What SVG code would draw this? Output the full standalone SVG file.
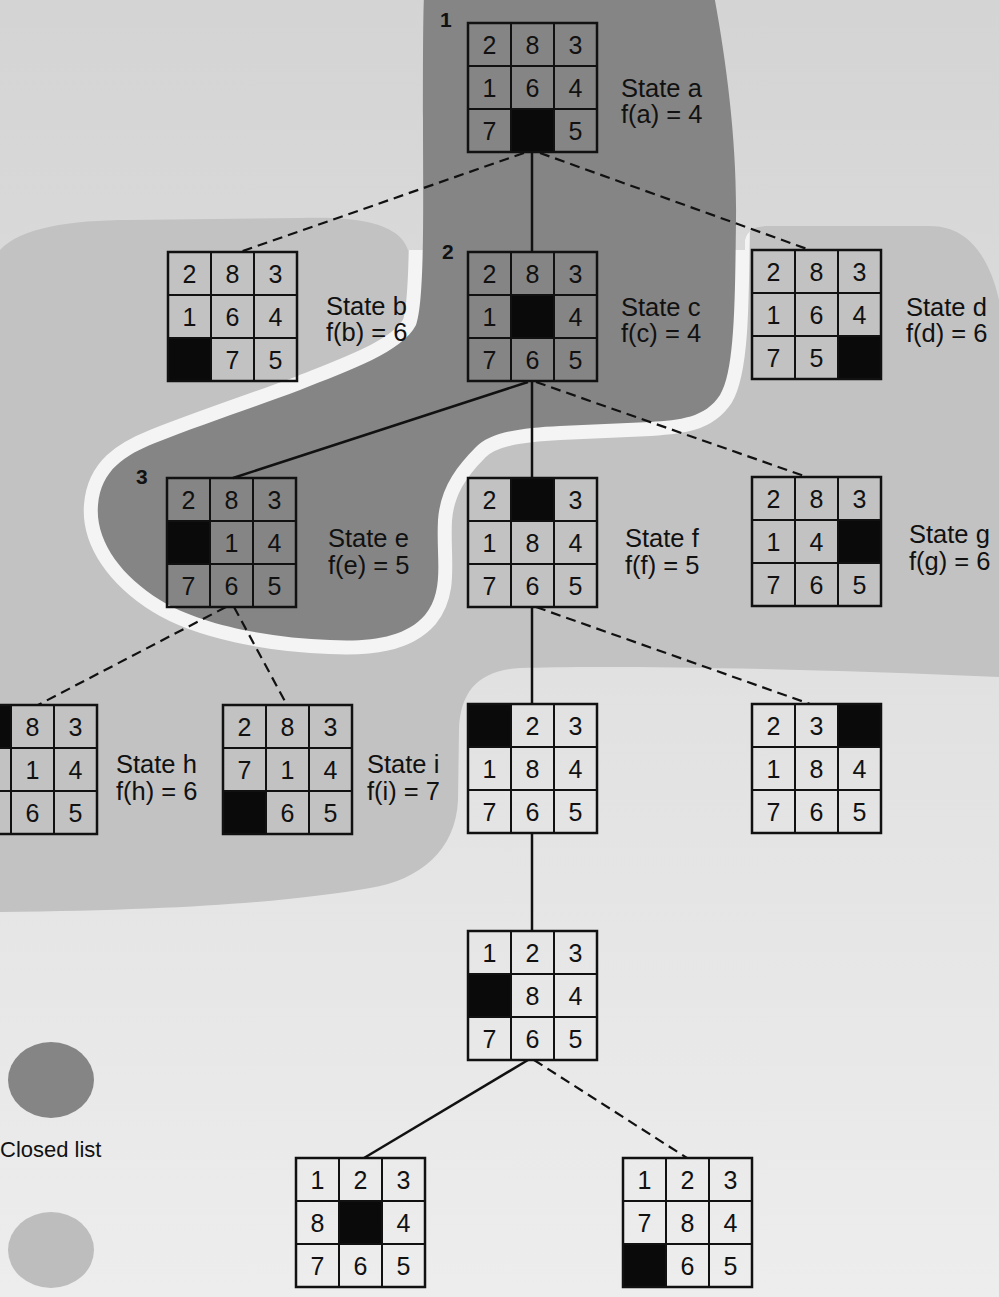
<svg xmlns="http://www.w3.org/2000/svg" xmlns:xlink="http://www.w3.org/1999/xlink" width="999" height="1297" viewBox="0 0 999 1297">
<style>
.num{font-family:"Liberation Sans",Arial,sans-serif;font-size:25px;text-anchor:middle;fill:#111}
.lbl{font-family:"Liberation Sans",Arial,sans-serif;font-size:25.5px;fill:#111}
.step{font-family:"Liberation Sans",Arial,sans-serif;font-size:21px;font-weight:bold;fill:#111}
.frame{fill:none;stroke:#111;stroke-width:2.5}
.inner{stroke:#111;stroke-width:2}
.blank{fill:#0a0a0a}
.solid{stroke:#111;stroke-width:2.5;fill:none}
.dash{stroke:#111;stroke-width:2.2;fill:none;stroke-dasharray:10 6}
</style>
<defs>
<linearGradient id="paper" x1="0" y1="0" x2="0" y2="1">
<stop offset="0" stop-color="#d4d4d4"/>
<stop offset="1" stop-color="#ededed"/>
</linearGradient>
<path id="lightShape" d="M0,250 C20,228 70,220 130,220 L300,218 C360,216 400,224 408,250 L745,250 L745,240 C748,228 758,226 770,226 L930,226 C970,226 990,260 999,300 L999,677 C800,668 600,665 520,668 C480,670 460,690 459,730 L458,800 C456,850 420,880 370,888 C300,900 200,910 0,912 Z"/>
<path id="darkShape" d="M424,-5 L714,-5 C726,60 737,140 736,220 C735,300 735,370 720,395 C705,418 680,420 650,422 L560,426 C520,428 490,432 475,448 C455,468 440,490 438,520 C436,560 445,590 425,615 C405,638 370,642 330,640 C270,638 200,625 160,600 C120,575 95,540 98,505 C101,470 125,455 155,443 C200,425 260,405 300,390 C350,370 402,352 416,325 C425,300 423,200 423,120 C423,60 423,20 424,-5 Z"/>
<clipPath id="lightClip"><use xlink:href="#lightShape"/></clipPath>
<g id="frame">
<rect class="frame" x="0" y="0" width="129" height="129"/>
<line class="inner" x1="43" y1="0" x2="43" y2="129"/>
<line class="inner" x1="86" y1="0" x2="86" y2="129"/>
<line class="inner" x1="0" y1="43" x2="129" y2="43"/>
<line class="inner" x1="0" y1="86" x2="129" y2="86"/>
</g>
</defs>

<g id="background">
<rect x="0" y="0" width="999" height="1297" fill="url(#paper)"/>
<use xlink:href="#lightShape" fill="#c2c2c2"/>
<use xlink:href="#darkShape" fill="none" stroke="#f4f4f4" stroke-width="28" clip-path="url(#lightClip)"/>
<use xlink:href="#darkShape" fill="#858585"/>
</g>

<g id="connectors">
<line class="dash" x1="524" y1="153" x2="240" y2="252"/>
<line class="solid" x1="532" y1="152" x2="532" y2="252"/>
<line class="dash" x1="540" y1="153" x2="810" y2="250"/>
<line class="solid" x1="528" y1="382" x2="233" y2="478"/>
<line class="solid" x1="532" y1="381" x2="532" y2="478"/>
<line class="dash" x1="536" y1="382" x2="807" y2="477"/>
<line class="dash" x1="226" y1="607" x2="38" y2="705"/>
<line class="dash" x1="234" y1="607" x2="287" y2="705"/>
<line class="solid" x1="532" y1="606" x2="532" y2="704"/>
<line class="dash" x1="536" y1="607" x2="810" y2="704"/>
<line class="solid" x1="532" y1="833" x2="532" y2="931"/>
<line class="solid" x1="528" y1="1060" x2="364" y2="1158"/>
<line class="dash" x1="534" y1="1060" x2="687" y2="1158"/>
</g>

<g id="state-a" transform="translate(468,23)">
<rect class="blank" x="43" y="86" width="43" height="43"/>
<use xlink:href="#frame"/>
<text class="num" x="21.5" y="30.5">2</text><text class="num" x="64.5" y="30.5">8</text><text class="num" x="107.5" y="30.5">3</text>
<text class="num" x="21.5" y="73.5">1</text><text class="num" x="64.5" y="73.5">6</text><text class="num" x="107.5" y="73.5">4</text>
<text class="num" x="21.5" y="116.5">7</text><text class="num" x="107.5" y="116.5">5</text>
</g>
<g id="label-a"><text class="step" x="440" y="27">1</text><text class="lbl" x="621" y="97">State a</text><text class="lbl" x="621" y="123">f(a) = 4</text></g>

<g id="state-b" transform="translate(168,252)">
<rect class="blank" x="0" y="86" width="43" height="43"/>
<use xlink:href="#frame"/>
<text class="num" x="21.5" y="30.5">2</text><text class="num" x="64.5" y="30.5">8</text><text class="num" x="107.5" y="30.5">3</text>
<text class="num" x="21.5" y="73.5">1</text><text class="num" x="64.5" y="73.5">6</text><text class="num" x="107.5" y="73.5">4</text>
<text class="num" x="64.5" y="116.5">7</text><text class="num" x="107.5" y="116.5">5</text>
</g>
<g id="label-b"><text class="lbl" x="326" y="315">State b</text><text class="lbl" x="326" y="341">f(b) = 6</text></g>

<g id="state-c" transform="translate(468,252)">
<rect class="blank" x="43" y="43" width="43" height="43"/>
<use xlink:href="#frame"/>
<text class="num" x="21.5" y="30.5">2</text><text class="num" x="64.5" y="30.5">8</text><text class="num" x="107.5" y="30.5">3</text>
<text class="num" x="21.5" y="73.5">1</text><text class="num" x="107.5" y="73.5">4</text>
<text class="num" x="21.5" y="116.5">7</text><text class="num" x="64.5" y="116.5">6</text><text class="num" x="107.5" y="116.5">5</text>
</g>
<g id="label-c"><text class="step" x="442" y="259">2</text><text class="lbl" x="621" y="316">State c</text><text class="lbl" x="621" y="342">f(c) = 4</text></g>

<g id="state-d" transform="translate(752,250)">
<rect class="blank" x="86" y="86" width="43" height="43"/>
<use xlink:href="#frame"/>
<text class="num" x="21.5" y="30.5">2</text><text class="num" x="64.5" y="30.5">8</text><text class="num" x="107.5" y="30.5">3</text>
<text class="num" x="21.5" y="73.5">1</text><text class="num" x="64.5" y="73.5">6</text><text class="num" x="107.5" y="73.5">4</text>
<text class="num" x="21.5" y="116.5">7</text><text class="num" x="64.5" y="116.5">5</text>
</g>
<g id="label-d"><text class="lbl" x="906" y="316">State d</text><text class="lbl" x="906" y="342">f(d) = 6</text></g>

<g id="state-e" transform="translate(167,478)">
<rect class="blank" x="0" y="43" width="43" height="43"/>
<use xlink:href="#frame"/>
<text class="num" x="21.5" y="30.5">2</text><text class="num" x="64.5" y="30.5">8</text><text class="num" x="107.5" y="30.5">3</text>
<text class="num" x="64.5" y="73.5">1</text><text class="num" x="107.5" y="73.5">4</text>
<text class="num" x="21.5" y="116.5">7</text><text class="num" x="64.5" y="116.5">6</text><text class="num" x="107.5" y="116.5">5</text>
</g>
<g id="label-e"><text class="step" x="136" y="484">3</text><text class="lbl" x="328" y="547">State e</text><text class="lbl" x="328" y="574">f(e) = 5</text></g>

<g id="state-f" transform="translate(468,478)">
<rect class="blank" x="43" y="0" width="43" height="43"/>
<use xlink:href="#frame"/>
<text class="num" x="21.5" y="30.5">2</text><text class="num" x="107.5" y="30.5">3</text>
<text class="num" x="21.5" y="73.5">1</text><text class="num" x="64.5" y="73.5">8</text><text class="num" x="107.5" y="73.5">4</text>
<text class="num" x="21.5" y="116.5">7</text><text class="num" x="64.5" y="116.5">6</text><text class="num" x="107.5" y="116.5">5</text>
</g>
<g id="label-f"><text class="lbl" x="625" y="547">State f</text><text class="lbl" x="625" y="574">f(f) = 5</text></g>

<g id="state-g" transform="translate(752,477)">
<rect class="blank" x="86" y="43" width="43" height="43"/>
<use xlink:href="#frame"/>
<text class="num" x="21.5" y="30.5">2</text><text class="num" x="64.5" y="30.5">8</text><text class="num" x="107.5" y="30.5">3</text>
<text class="num" x="21.5" y="73.5">1</text><text class="num" x="64.5" y="73.5">4</text>
<text class="num" x="21.5" y="116.5">7</text><text class="num" x="64.5" y="116.5">6</text><text class="num" x="107.5" y="116.5">5</text>
</g>
<g id="label-g"><text class="lbl" x="909" y="543">State g</text><text class="lbl" x="909" y="570">f(g) = 6</text></g>

<g id="state-h" transform="translate(-32,705)">
<rect class="blank" x="0" y="0" width="43" height="43"/>
<use xlink:href="#frame"/>
<text class="num" x="64.5" y="30.5">8</text><text class="num" x="107.5" y="30.5">3</text>
<text class="num" x="21.5" y="73.5">2</text><text class="num" x="64.5" y="73.5">1</text><text class="num" x="107.5" y="73.5">4</text>
<text class="num" x="21.5" y="116.5">7</text><text class="num" x="64.5" y="116.5">6</text><text class="num" x="107.5" y="116.5">5</text>
</g>
<g id="label-h"><text class="lbl" x="116" y="773">State h</text><text class="lbl" x="116" y="800">f(h) = 6</text></g>

<g id="state-i" transform="translate(223,705)">
<rect class="blank" x="0" y="86" width="43" height="43"/>
<use xlink:href="#frame"/>
<text class="num" x="21.5" y="30.5">2</text><text class="num" x="64.5" y="30.5">8</text><text class="num" x="107.5" y="30.5">3</text>
<text class="num" x="21.5" y="73.5">7</text><text class="num" x="64.5" y="73.5">1</text><text class="num" x="107.5" y="73.5">4</text>
<text class="num" x="64.5" y="116.5">6</text><text class="num" x="107.5" y="116.5">5</text>
</g>
<g id="label-i"><text class="lbl" x="367" y="773">State i</text><text class="lbl" x="367" y="800">f(i) = 7</text></g>

<g id="state-j" transform="translate(468,704)">
<rect class="blank" x="0" y="0" width="43" height="43"/>
<use xlink:href="#frame"/>
<text class="num" x="64.5" y="30.5">2</text><text class="num" x="107.5" y="30.5">3</text>
<text class="num" x="21.5" y="73.5">1</text><text class="num" x="64.5" y="73.5">8</text><text class="num" x="107.5" y="73.5">4</text>
<text class="num" x="21.5" y="116.5">7</text><text class="num" x="64.5" y="116.5">6</text><text class="num" x="107.5" y="116.5">5</text>
</g>

<g id="state-k" transform="translate(752,704)">
<rect class="blank" x="86" y="0" width="43" height="43"/>
<use xlink:href="#frame"/>
<text class="num" x="21.5" y="30.5">2</text><text class="num" x="64.5" y="30.5">3</text>
<text class="num" x="21.5" y="73.5">1</text><text class="num" x="64.5" y="73.5">8</text><text class="num" x="107.5" y="73.5">4</text>
<text class="num" x="21.5" y="116.5">7</text><text class="num" x="64.5" y="116.5">6</text><text class="num" x="107.5" y="116.5">5</text>
</g>

<g id="state-l" transform="translate(468,931)">
<rect class="blank" x="0" y="43" width="43" height="43"/>
<use xlink:href="#frame"/>
<text class="num" x="21.5" y="30.5">1</text><text class="num" x="64.5" y="30.5">2</text><text class="num" x="107.5" y="30.5">3</text>
<text class="num" x="64.5" y="73.5">8</text><text class="num" x="107.5" y="73.5">4</text>
<text class="num" x="21.5" y="116.5">7</text><text class="num" x="64.5" y="116.5">6</text><text class="num" x="107.5" y="116.5">5</text>
</g>

<g id="state-m" transform="translate(296,1158)">
<rect class="blank" x="43" y="43" width="43" height="43"/>
<use xlink:href="#frame"/>
<text class="num" x="21.5" y="30.5">1</text><text class="num" x="64.5" y="30.5">2</text><text class="num" x="107.5" y="30.5">3</text>
<text class="num" x="21.5" y="73.5">8</text><text class="num" x="107.5" y="73.5">4</text>
<text class="num" x="21.5" y="116.5">7</text><text class="num" x="64.5" y="116.5">6</text><text class="num" x="107.5" y="116.5">5</text>
</g>

<g id="state-n" transform="translate(623,1158)">
<rect class="blank" x="0" y="86" width="43" height="43"/>
<use xlink:href="#frame"/>
<text class="num" x="21.5" y="30.5">1</text><text class="num" x="64.5" y="30.5">2</text><text class="num" x="107.5" y="30.5">3</text>
<text class="num" x="21.5" y="73.5">7</text><text class="num" x="64.5" y="73.5">8</text><text class="num" x="107.5" y="73.5">4</text>
<text class="num" x="64.5" y="116.5">6</text><text class="num" x="107.5" y="116.5">5</text>
</g>

<g id="legend">
<ellipse cx="51" cy="1080" rx="43" ry="38" fill="#858585"/>
<text class="lbl" x="0" y="1157" style="font-size:22px">Closed list</text>
<ellipse cx="51" cy="1250" rx="43" ry="38" fill="#bdbdbd"/>
</g>
</svg>
